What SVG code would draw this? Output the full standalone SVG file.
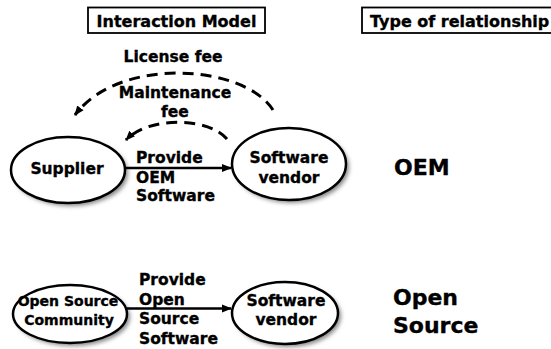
<svg xmlns="http://www.w3.org/2000/svg" width="551" height="349" viewBox="0 0 551 349">
<defs>
<style>
text{font-family:"DejaVu Sans",Verdana,sans-serif;font-weight:bold;fill:#000;stroke:#000;stroke-width:0.35}
.hdr{font-size:16px}
.lbl{font-size:15.5px}
.sm{font-size:14px}
.big{font-size:22px}
.node{fill:#fff;stroke:#000;stroke-width:2.5}
.shadow{fill:#888;filter:url(#blur)}
.solid{fill:none;stroke:#000;stroke-width:2.5}
.dash{fill:none;stroke:#000;stroke-width:3;stroke-dasharray:11 7}
</style>
<filter id="blur" x="-20%" y="-20%" width="140%" height="140%"><feGaussianBlur stdDeviation="2"/></filter>
<marker id="ah" viewBox="0 0 10 10" refX="9" refY="5" markerWidth="10" markerHeight="10" markerUnits="userSpaceOnUse" orient="auto"><path d="M0,1 L10,5 L0,9 Z" fill="#000"/></marker>
</defs>
<rect width="551" height="349" fill="#fff"/>
<g id="header-interaction">
<rect x="88" y="7.5" width="177" height="25.5" fill="#fff" stroke="#000" stroke-width="1.8"/>
<text class="hdr" x="176.5" y="26.5" text-anchor="middle">Interaction Model</text>
</g>
<g id="header-type">
<rect x="362" y="7.5" width="195" height="25.5" fill="#fff" stroke="#000" stroke-width="1.8"/>
<text class="hdr" x="370" y="26.5">Type of relationship</text>
</g>
<g id="supplier">
<ellipse class="shadow" cx="71" cy="173" rx="57" ry="33"/>
<ellipse class="node" cx="68" cy="170" rx="57" ry="33"/>
<text class="lbl" x="67" y="174" text-anchor="middle">Supplier</text>
</g>
<g id="vendor-oem">
<ellipse class="shadow" cx="292" cy="167" rx="57" ry="36"/>
<ellipse class="node" cx="289" cy="164" rx="57" ry="36"/>
<text class="lbl" x="289" y="163" text-anchor="middle">Software</text>
<text class="lbl" x="289" y="183" text-anchor="middle">vendor</text>
</g>
<g id="community">
<ellipse class="shadow" cx="73" cy="317" rx="57" ry="29"/>
<ellipse class="node" cx="70" cy="314" rx="57" ry="29"/>
<text class="sm" x="68" y="306" text-anchor="middle">Open Source</text>
<text class="sm" x="69" y="325" text-anchor="middle">Community</text>
</g>
<g id="vendor-os">
<ellipse class="shadow" cx="288" cy="316" rx="53" ry="31"/>
<ellipse class="node" cx="285" cy="313" rx="53" ry="31"/>
<text class="lbl" x="286" y="306" text-anchor="middle">Software</text>
<text class="lbl" x="286" y="325" text-anchor="middle">vendor</text>
</g>
<g id="type-oem">
<text class="big" x="394" y="175">OEM</text>
</g>
<g id="type-os">
<text class="big" x="393" y="305">Open</text>
<text class="big" x="393" y="333">Source</text>
</g>
<g id="connectors">
<path class="dash" d="M273,110 C245,65 120,55 75,115" marker-end="url(#ah)"/>
<path class="dash" d="M227,139 C210,118 150,115 126,140" marker-end="url(#ah)"/>
<path class="solid" d="M125,168 L231,168" marker-end="url(#ah)"/>
<path class="solid" d="M127,308.5 L231,308.5" marker-end="url(#ah)"/>
<text class="lbl" x="173" y="62" text-anchor="middle">License fee</text>
<text class="lbl" x="175" y="98" text-anchor="middle">Maintenance</text>
<text class="lbl" x="175" y="117" text-anchor="middle">fee</text>
<text class="lbl" x="136" y="163">Provide</text>
<text class="lbl" x="136" y="183">OEM</text>
<text class="lbl" x="136" y="200.5">Software</text>
<text class="lbl" x="139" y="285">Provide</text>
<text class="lbl" x="139" y="304.5">Open</text>
<text class="lbl" x="139" y="324">Source</text>
<text class="lbl" x="139" y="343.5">Software</text>
</g>
</svg>
